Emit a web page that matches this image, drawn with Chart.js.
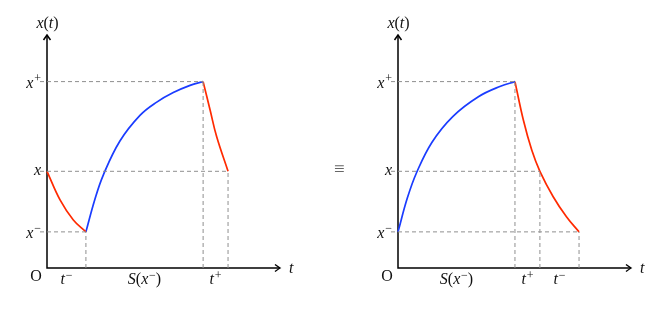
<!DOCTYPE html>
<html>
<head>
<meta charset="utf-8">
<script src="https://cdn.jsdelivr.net/npm/chart.js@4/dist/chart.umd.min.js"></script>
<style>
  body { margin: 0; background: #fff; }
  #wrap { position: relative; width: 664px; height: 309px; }
  .panel { position: absolute; top: 0; width: 332px; height: 309px; }
  #equiv { position: absolute; left: 334px; top: 158px; font: 19px "Liberation Serif", serif; color: #666; }
</style>
</head>
<body>
<div id="wrap">
  <div class="panel" style="left:0"><canvas id="leftChart"></canvas></div>
  <div class="panel" style="left:332px"><canvas id="rightChart"></canvas></div>
  <div id="equiv">≡</div>
</div>
<script>
// levels on the x(t) axis: x+, x, x-
const LEVELS = [8.0, 4.15, 1.55];
const LEVEL_LABELS = [[['x', 'i'], ['+', 's']], [['x', 'i']], [['x', 'i'], ['−', 's']]];

// left panel: x -> x- -> x+ -> x
const leftRed1 = [[0, 4.15], [0.56, 2.92], [1.13, 2.06], [1.67, 1.55]];
const leftBlue = [[1.67, 1.55], [2.05, 2.93], [2.42, 4.0], [3.13, 5.45], [3.99, 6.55], [4.71, 7.12], [5.42, 7.53], [6.14, 7.84], [6.70, 8.0]];
const leftRed2 = [[6.70, 8.0], [7.0, 6.78], [7.28, 5.64], [7.77, 4.15]];
const leftCorners = [[1.67, 1.55], [6.70, 8.0], [7.77, 4.15]];
const leftSpans = [[0, 1.67], [1.67, 6.70], [6.70, 7.77]];
const leftSpanLabels = [
    [['t', 'i'], ['−', 's']],
    [['S', 'i'], ['(', 'r'], ['x', 'i'], ['−', 's'], [')', 'r']],
    [['t', 'i'], ['+', 's']]
];

// right panel: x- -> x+ -> x- passing x
const rightBlue = [[0, 1.55], [0.40, 3.0], [0.80, 4.1], [1.46, 5.4], [2.35, 6.5], [3.45, 7.35], [4.40, 7.8], [5.02, 8.0]];
const rightRed = [[5.02, 8.0], [5.38, 6.35], [5.74, 5.06], [6.09, 4.15], [6.66, 3.06], [7.23, 2.20], [7.77, 1.55]];
const rightCorners = [[5.02, 8.0], [6.09, 4.15], [7.77, 1.55]];
const rightSpans = [[0, 5.02], [5.02, 6.09], [6.09, 7.77]];
const rightSpanLabels = [
    [['S', 'i'], ['(', 'r'], ['x', 'i'], ['−', 's'], [')', 'r']],
    [['t', 'i'], ['+', 's']],
    [['t', 'i'], ['−', 's']]
];

const BLUE = '#1a3cff';
const RED = '#ff2a00';
const GUIDE = '#8f8f8f';

function toPoints(arr) {
    return arr.map(function (p) { return { x: p[0], y: p[1] }; });
}

function curve(arr, color) {
    return {
        data: toPoints(arr),
        borderColor: color,
        borderWidth: 1.7,
        pointRadius: 0,
        tension: 0.4,
        clip: false
    };
}

function guide(arr) {
    return {
        data: toPoints(arr),
        borderColor: GUIDE,
        borderWidth: 1,
        borderDash: [4, 3],
        pointRadius: 0,
        clip: false
    };
}

function guideSets(corners) {
    let sets = [];
    corners.forEach(function (c) {
        sets.push(guide([[-0.3, c[1]], [c[0], c[1]]]));
        sets.push(guide([[c[0], 0], [c[0], c[1]]]));
    });
    return sets;
}

function fontFor(kind) {
    if (kind === 'i') return 'italic 16px "Liberation Serif", serif';
    if (kind === 's') return '12px "Liberation Serif", serif';
    return '16px "Liberation Serif", serif';
}

// draws a little math string made of [text, kind] parts
function drawMath(ctx, parts, x, y, align) {
    let w = 0;
    parts.forEach(function (p) {
        ctx.font = fontFor(p[1]);
        w += ctx.measureText(p[0]).width + (p[1] === 's' ? 0.8 : 0);
    });
    let cx = x;
    if (align === 'center') cx = x - w / 2;
    if (align === 'right') cx = x - w;
    ctx.textAlign = 'left';
    ctx.textBaseline = 'alphabetic';
    ctx.fillStyle = '#111';
    parts.forEach(function (p) {
        ctx.font = fontFor(p[1]);
        let dy = p[1] === 's' ? -5.5 : 0;
        ctx.fillText(p[0], cx + (p[1] === 's' ? 0.8 : 0), y + dy);
        cx += ctx.measureText(p[0]).width + (p[1] === 's' ? 0.8 : 0);
    });
}

function arrowHead(ctx, x, y, dir) {
    ctx.save();
    ctx.translate(x, y);
    ctx.rotate(dir);
    ctx.beginPath();
    ctx.moveTo(-5, -3.5);
    ctx.quadraticCurveTo(-1.5, -1, 0, 0);
    ctx.quadraticCurveTo(-1.5, 1, -5, 3.5);
    ctx.stroke();
    ctx.restore();
}

const decor = {
    id: 'decor',
    beforeDatasetsDraw(chart) {
        const ctx = chart.ctx;
        const a = chart.chartArea;
        const ox = chart.scales.x.getPixelForValue(0);
        const oy = chart.scales.y.getPixelForValue(0);
        ctx.save();
        ctx.strokeStyle = '#000';
        ctx.lineWidth = 1.5;
        ctx.beginPath();
        ctx.moveTo(ox, a.top + 0.5);
        ctx.lineTo(ox, oy);
        ctx.lineTo(a.right - 0.5, oy);
        ctx.stroke();
        arrowHead(ctx, ox, a.top, -Math.PI / 2);
        arrowHead(ctx, a.right, oy, 0);
        ctx.restore();
    },
    afterDatasetsDraw(chart, args, opts) {
        const ctx = chart.ctx;
        const a = chart.chartArea;
        const xs = chart.scales.x;
        const ys = chart.scales.y;
        const ox = xs.getPixelForValue(0);
        const oy = ys.getPixelForValue(0);
        ctx.save();
        drawMath(ctx, [['x', 'i'], ['(', 'r'], ['t', 'i'], [')', 'r']], ox + 0.5, a.top - 7, 'center');
        drawMath(ctx, [['t', 'i']], a.right + 9, oy + 5, 'left');
        drawMath(ctx, [['O', 'r']], ox - 11, oy + 13, 'center');
        LEVELS.forEach(function (v, i) {
            const lab = LEVEL_LABELS[i];
            drawMath(ctx, lab, ox - 6, ys.getPixelForValue(v) + (lab.length > 1 ? 6 : 4), 'right');
        });
        opts.spans.forEach(function (s, i) {
            const mid = (xs.getPixelForValue(s[0]) + xs.getPixelForValue(s[1])) / 2;
            drawMath(ctx, opts.spanLabels[i], mid, oy + 16, 'center');
        });
        ctx.restore();
    }
};

function makeChart(id, datasets, padding, spans, spanLabels) {
    return new Chart(document.getElementById(id), {
        type: 'line',
        data: { datasets: datasets },
        plugins: [decor],
        options: {
            responsive: true,
            maintainAspectRatio: false,
            animation: false,
            layout: { padding: padding },
            scales: {
                x: { type: 'linear', min: 0, max: 10, display: false },
                y: { type: 'linear', min: 0, max: 10, display: false }
            },
            plugins: {
                legend: { display: false },
                tooltip: { enabled: false },
                decor: { spans: spans, spanLabels: spanLabels }
            }
        }
    });
}

makeChart('leftChart',
    guideSets(leftCorners).concat([curve(leftRed1, RED), curve(leftBlue, BLUE), curve(leftRed2, RED)]),
    { left: 47, right: 52, top: 35, bottom: 41 },
    leftSpans, leftSpanLabels);

makeChart('rightChart',
    guideSets(rightCorners).concat([curve(rightBlue, BLUE), curve(rightRed, RED)]),
    { left: 66, right: 33, top: 35, bottom: 41 },
    rightSpans, rightSpanLabels);
</script>
</body>
</html>
